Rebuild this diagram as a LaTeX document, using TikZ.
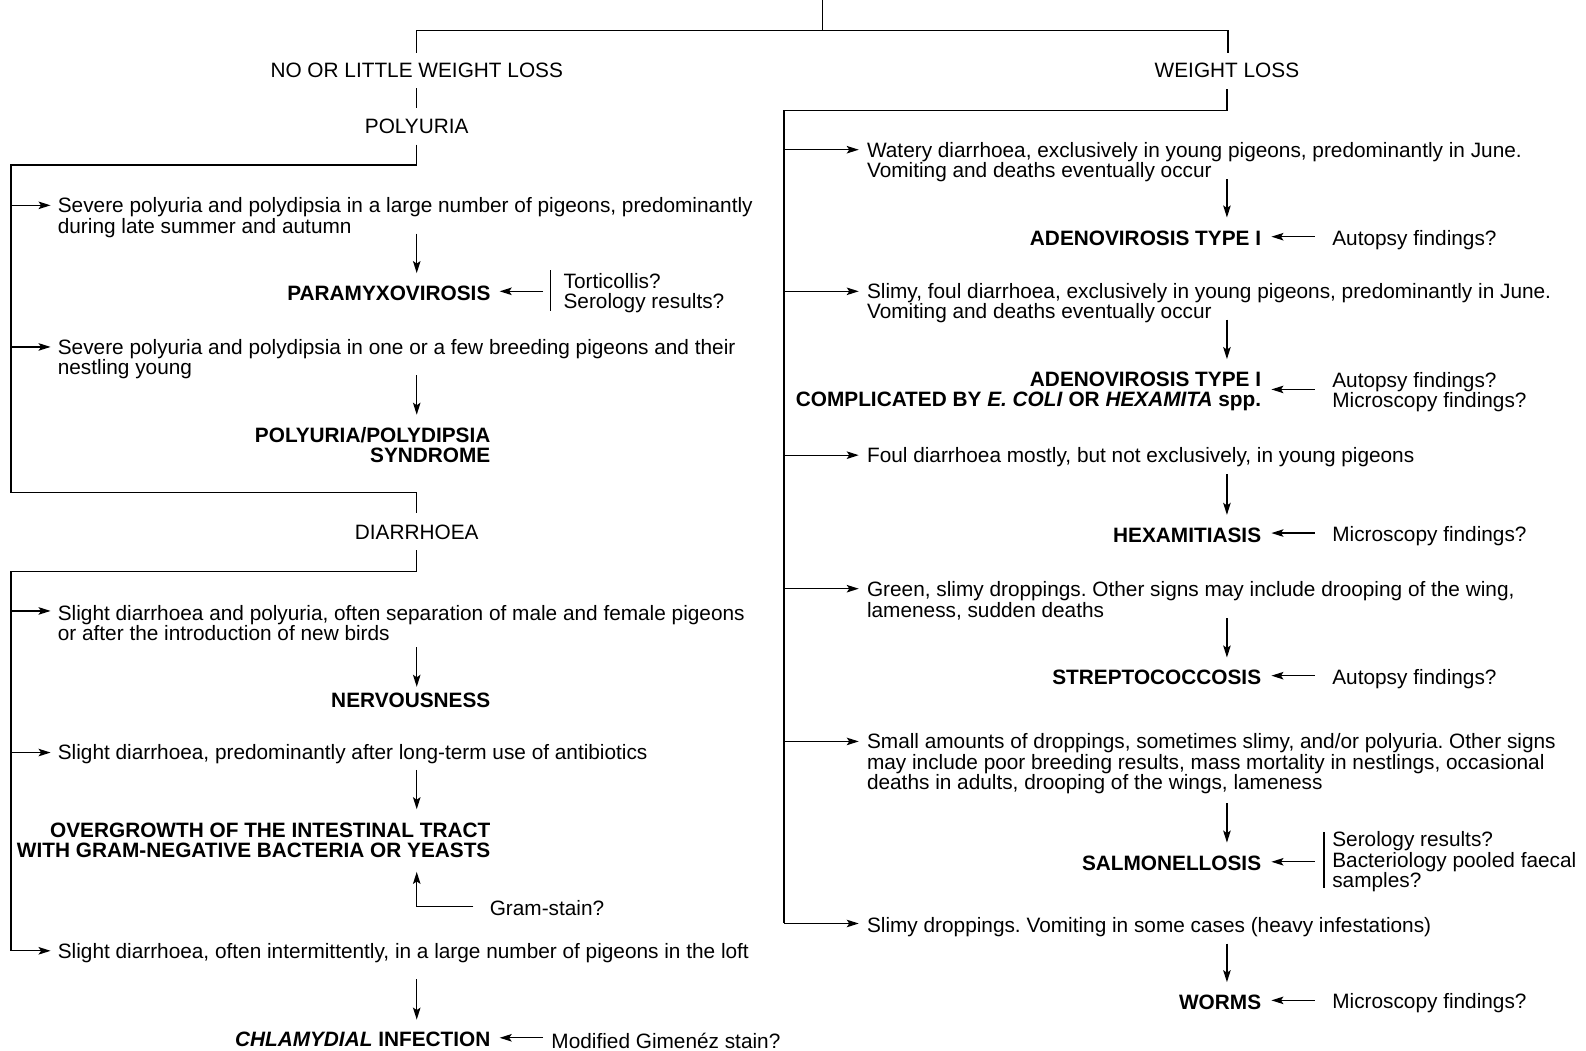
\documentclass[tikz,border=0pt]{standalone}
\usepackage{fontspec}
\setmainfont{Liberation Sans}
\usetikzlibrary{arrows.meta}
\frenchspacing
\tikzset{
  ln/.style={line width=1.3pt},
  arr/.style={ln,-{Stealth[length=12pt,width=7.5pt,inset=2.5pt]}},
  base/.style={inner sep=0pt,font=\fontsize{20.8}{20.3}\selectfont},
  lab/.style={base,anchor=center},
  txt/.style={base,anchor=west,align=left},
  dx/.style={base,anchor=east,align=right,font=\fontsize{20.8}{20.3}\selectfont\bfseries},
}
\begin{document}
\begin{tikzpicture}[x=1.0115pt,y=-1.0115pt]
\fill[white] (0,0) rectangle (1568,1039);
\useasboundingbox (0,0) rectangle (1568,1039);

% ---- headings
\node[lab] (nolw) at (412,70) {NO OR LITTLE WEIGHT LOSS};
\node[lab] (wl) at (1213,70) {WEIGHT LOSS};
\node[lab] (poly) at (412,125) {POLYURIA};
\node[lab] (diar) at (412,526) {DIARRHOEA};

% ---- tree lines
\coordinate (top) at (813,0);
\coordinate (split) at (813,30);
\draw[ln] (top) -- (split);
\draw[ln] (412,52) -- (412,30) -- (1214,30) -- (1214,52);
\draw[ln] (412,87) -- (412,107);
\draw[ln] (412,143) -- (412,163) -- (11,163) -- (11,487) -- (412,487) -- (412,507);
\draw[ln] (412,544) -- (412,565) -- (11,565) -- (11,940);
\draw[ln] (1213,88) -- (1213,109) -- (775,109) -- (775,913);

% ---- left column texts
\node[txt] (l1) at (57,215) {Severe polyuria and polydipsia in a large number of pigeons, predominantly\\during late summer and autumn};
\node[dx] (d1) at (485,290) {PARAMYXOVIROSIS};
\node[txt] (s1) at (557,290) {Torticollis?\\Serology results?};
\node[txt] (l2) at (57,355) {Severe polyuria and polydipsia in one or a few breeding pigeons and their\\nestling young};
\node[dx] (d2) at (485,440) {POLYURIA/POLYDIPSIA\\SYNDROME};
\node[txt] (l3) at (57,616) {Slight diarrhoea and polyuria, often separation of male and female pigeons\\or after the introduction of new birds};
\node[dx] (d3) at (485,692) {NERVOUSNESS};
\node[txt] (l4) at (57,746) {Slight diarrhoea, predominantly after long-term use of antibiotics};
\node[dx] (d4) at (485,831) {OVERGROWTH OF THE INTESTINAL TRACT\\WITH GRAM-NEGATIVE BACTERIA OR YEASTS};
\node[txt] (s4) at (484,898) {Gram-stain?};
\node[txt] (l5) at (57,942) {Slight diarrhoea, often intermittently, in a large number of pigeons in the loft};
\node[dx] (d5) at (485,1028) {\textit{CHLAMYDIAL} INFECTION};
\node[txt] (s5) at (545,1029) {Modified Gimenéz stain?};

% ---- left arrows
\foreach \y in {203,343,604,744,940} \draw[arr] (11,\y) -- (50,\y);
\draw[arr] (412,231) -- (412,270);
\draw[arr] (412,371) -- (412,410);
\draw[arr] (412,640) -- (412,679);
\draw[arr] (412,761) -- (412,800);
\draw[arr] (412,968) -- (412,1008);
\draw[arr] (468,896) -- (412,896) -- (412,862);
\draw[arr] (537,288) -- (494,288);
\draw[ln] (544,267) -- (544,307);
\draw[arr] (537,1026) -- (494,1026);

% ---- right column texts
\node[txt] (r1) at (857,160) {Watery diarrhoea, exclusively in young pigeons, predominantly in June.\\Vomiting and deaths eventually occur};
\node[dx] (e1) at (1247,236) {ADENOVIROSIS TYPE I};
\node[txt] (q1) at (1317,237) {Autopsy findings?};
\node[txt] (r2) at (857,300) {Slimy, foul diarrhoea, exclusively in young pigeons, predominantly in June.\\Vomiting and deaths eventually occur};
\node[dx] (e2) at (1247,387) {ADENOVIROSIS TYPE I\\COMPLICATED BY \textit{E. COLI} OR \textit{HEXAMITA} spp.};
\node[txt] (q2) at (1317,388) {Autopsy findings?\\Microscopy findings?};
\node[txt] (r3) at (857,452) {Foul diarrhoea mostly, but not exclusively, in young pigeons};
\node[dx] (e3) at (1247,529) {HEXAMITIASIS};
\node[txt] (q3) at (1317,530) {Microscopy findings?};
\node[txt] (r4) at (857,594) {Green, slimy droppings. Other signs may include drooping of the wing,\\lameness, sudden deaths};
\node[dx] (e4) at (1247,670) {STREPTOCOCCOSIS};
\node[txt] (q4) at (1317,671) {Autopsy findings?};
\node[txt] (r5) at (857,755) {Small amounts of droppings, sometimes slimy, and/or polyuria. Other signs\\may include poor breeding results, mass mortality in nestlings, occasional\\deaths in adults, drooping of the wings, lameness};
\node[dx] (e5) at (1247,854) {SALMONELLOSIS};
\node[txt] (q5) at (1317,852) {Serology results?\\Bacteriology pooled faecal\\samples?};
\node[txt] (r6) at (857,917) {Slimy droppings. Vomiting in some cases (heavy infestations)};
\node[dx] (e6) at (1247,991) {WORMS};
\node[txt] (q6) at (1317,992) {Microscopy findings?};

% ---- right arrows
\foreach \y in {148,288,450,582,733,913} \draw[arr] (775,\y) -- (849,\y);
\foreach \a/\b in {177/215,316/355,469/509,611/650,794/833,933/971} \draw[arr] (1213,\a) -- (1213,\b);
\foreach \y in {234,385,527,668,852,989} \draw[arr] (1300,\y) -- (1257,\y);
\draw[ln] (1309,823) -- (1309,878);
\end{tikzpicture}
\end{document}
